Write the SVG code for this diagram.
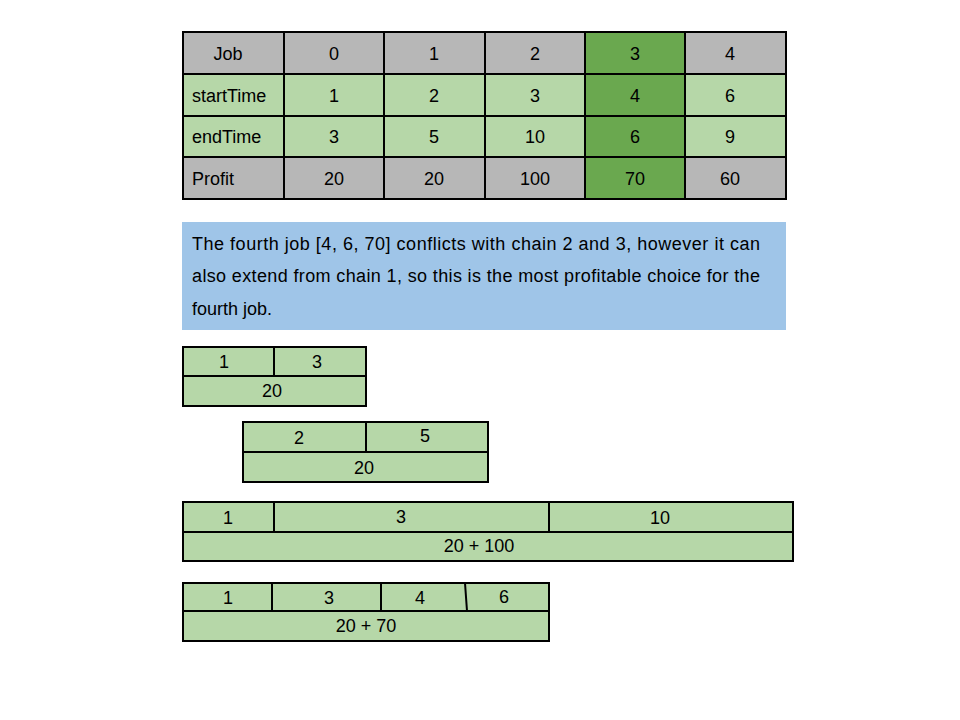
<svg xmlns="http://www.w3.org/2000/svg" width="960" height="720" viewBox="0 0 960 720">
<style>
text{font-family:"Liberation Sans",Arial,sans-serif;font-size:18px;fill:#000}
.c{text-anchor:middle}
.g{fill:#b7b7b7;stroke:#000;stroke-width:2}
.l{fill:#b6d7a8;stroke:#000;stroke-width:2}
.d{fill:#6aa84f;stroke:#000;stroke-width:2}
.ln{stroke:#000;stroke-width:2;fill:none}
</style>
<rect width="960" height="720" fill="#fff"/>
<g id="table">
<rect class="g" x="183" y="32" width="603" height="42"/>
<rect class="l" x="183" y="74" width="603" height="83"/>
<rect class="g" x="183" y="157" width="603" height="42"/>
<rect class="d" x="585" y="32" width="100" height="167"/>
<path class="ln" d="M284 32V199M384 32V199M485 32V199M585 32V199M685 32V199M183 74H786M183 116H786M183 157H786"/>
<rect class="ln" x="183" y="32" width="603" height="167"/>
<text class="c" x="228" y="60">Job</text>
<text class="c" x="334" y="60">0</text>
<text class="c" x="434" y="60">1</text>
<text class="c" x="535" y="60">2</text>
<text class="c" x="635" y="60">3</text>
<text class="c" x="730" y="60">4</text>
<text x="192" y="102">startTime</text>
<text class="c" x="334" y="102">1</text>
<text class="c" x="434" y="102">2</text>
<text class="c" x="535" y="102">3</text>
<text class="c" x="635" y="102">4</text>
<text class="c" x="730" y="102">6</text>
<text x="192" y="143">endTime</text>
<text class="c" x="334" y="143">3</text>
<text class="c" x="434" y="143">5</text>
<text class="c" x="535" y="143">10</text>
<text class="c" x="635" y="143">6</text>
<text class="c" x="730" y="143">9</text>
<text x="192" y="185">Profit</text>
<text class="c" x="334" y="185">20</text>
<text class="c" x="434" y="185">20</text>
<text class="c" x="535" y="185">100</text>
<text class="c" x="635" y="185">70</text>
<text class="c" x="730" y="185">60</text>
</g>
<g id="note">
<rect x="182" y="222" width="604" height="108" fill="#9fc5e8"/>
<text x="192" y="250" textLength="568" lengthAdjust="spacing">The fourth job [4, 6, 70] conflicts with chain 2 and 3, however it can</text>
<text x="192" y="282" textLength="568" lengthAdjust="spacing">also extend from chain 1, so this is the most profitable choice for the</text>
<text x="192" y="315">fourth job.</text>
</g>
<g id="chain1">
<rect class="l" x="183" y="347" width="183" height="59"/>
<path class="ln" d="M183 376H366M274 347V376"/>
<text class="c" x="224" y="368">1</text>
<text class="c" x="317" y="368">3</text>
<text class="c" x="272" y="397">20</text>
</g>
<g id="chain2">
<rect class="l" x="243" y="422" width="245" height="60"/>
<path class="ln" d="M243 452H488M366 422V452"/>
<text class="c" x="299" y="444">2</text>
<text class="c" x="425" y="442">5</text>
<text class="c" x="364" y="474">20</text>
</g>
<g id="chain3">
<rect class="l" x="183" y="502" width="610" height="59"/>
<path class="ln" d="M183 532H793M274 502V532M549 502V532"/>
<text class="c" x="228" y="524">1</text>
<text class="c" x="401" y="523">3</text>
<text class="c" x="660" y="524">10</text>
<text class="c" x="479" y="552">20 + 100</text>
</g>
<g id="chain4">
<rect class="l" x="183" y="583" width="366" height="58"/>
<path class="ln" d="M183 611H549M272 583V611M381 583V611M465 583L467 611"/>
<text class="c" x="228" y="604">1</text>
<text class="c" x="329" y="604">3</text>
<text class="c" x="420" y="604">4</text>
<text class="c" x="504" y="603">6</text>
<text class="c" x="366" y="632">20 + 70</text>
</g>
</svg>
